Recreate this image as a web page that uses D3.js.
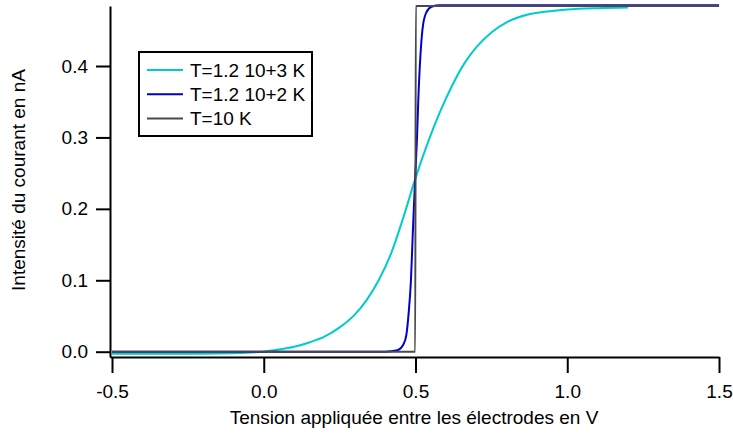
<!DOCTYPE html>
<html>
<head>
<meta charset="utf-8">
<script src="https://cdn.jsdelivr.net/npm/d3@7"></script>
<style>
  html, body { margin: 0; padding: 0; background: #fff; }
  svg { display: block; font-family: "Liberation Sans", Arial, sans-serif; }
</style>
</head>
<body>
<svg id="chart" width="733" height="439"></svg>
<script>
// Tension (V) and current (nA) samples for each temperature
const voltsHot = [-0.5, -0.3, -0.1, 0.0, 0.05, 0.10, 0.15, 0.20, 0.25, 0.30, 0.34, 0.38, 0.42, 0.46, 0.50, 0.54, 0.58, 0.62, 0.66, 0.70, 0.75, 0.80, 0.87, 0.95, 1.0, 1.1, 1.2];
const currentHot = [-0.003, -0.003, -0.002, 0.0, 0.003, 0.007, 0.013, 0.021, 0.034, 0.052, 0.073, 0.101, 0.138, 0.188, 0.243, 0.292, 0.335, 0.372, 0.403, 0.426, 0.447, 0.461, 0.472, 0.477, 0.479, 0.481, 0.482];

const voltsWarm = [-0.5, 0.40, 0.44, 0.46, 0.47, 0.477, 0.485, 0.491, 0.499, 0.505, 0.509, 0.517, 0.525, 0.537, 0.553, 0.58, 1.5];
const currentWarm = [0.0, 0.0, 0.002, 0.010, 0.024, 0.052, 0.100, 0.165, 0.245, 0.300, 0.350, 0.420, 0.458, 0.476, 0.483, 0.485, 0.485];

const voltsCold = [-0.5, 0.499, 0.501, 1.5];
const currentCold = [0.0, 0.0, 0.484, 0.484];

const seriesNames = ["T=1.2 10+3 K", "T=1.2 10+2 K", "T=10 K"];
const seriesColors = ["#00cccc", "#0000cc", "#4a4a4a"];

const xTicks = [-0.5, 0.0, 0.5, 1.0, 1.5];
const yTicks = [0.0, 0.1, 0.2, 0.3, 0.4];

const xTitle = "Tension appliquée entre les électrodes en V";
const yTitle = "Intensité du courant en nA";

const svg = d3.select("#chart");

const x = d3.scaleLinear().domain([-0.5066, 1.5]).range([110, 719]);
const y = d3.scaleLinear().domain([-0.0074, 0.484]).range([357, 6]);

const fmt = d => d.toFixed(1);

const zip = (xs, ys) => xs.map((v, i) => [v, ys[i]]);
const series = [
  zip(voltsHot, currentHot),
  zip(voltsWarm, currentWarm),
  zip(voltsCold, currentCold)
];

const line = d3.line()
  .x(d => x(d[0]))
  .y(d => y(d[1]))
  .curve(d3.curveMonotoneX);

// curves, hottest first so the sharp steps sit on top
svg.append("g")
  .selectAll("path")
  .data(series)
  .join("path")
  .attr("fill", "none")
  .attr("stroke", (d, i) => seriesColors[i])
  .attr("stroke-width", 2)
  .attr("d", line);

// axes
const xAxis = svg.append("g")
  .attr("transform", `translate(0,${357})`)
  .call(d3.axisBottom(x).tickValues(xTicks).tickFormat(fmt).tickSize(16).tickPadding(12).tickSizeOuter(0));

const yAxis = svg.append("g")
  .attr("transform", `translate(${110},0)`)
  .call(d3.axisLeft(y).tickValues(yTicks).tickFormat(fmt).tickSize(14).tickPadding(8).tickSizeOuter(0));

[xAxis, yAxis].forEach(g => {
  g.selectAll("path.domain").attr("stroke", "#000").attr("stroke-width", 2);
  g.selectAll(".tick line").attr("stroke", "#000").attr("stroke-width", 2);
  g.selectAll(".tick text").attr("fill", "#000").attr("font-size", 19)
    .attr("font-family", "Liberation Sans, Arial, sans-serif");
});

// axis titles
svg.append("text")
  .attr("x", 414)
  .attr("y", 424)
  .attr("text-anchor", "middle")
  .attr("font-size", 19)
  .attr("fill", "#000")
  .text(xTitle);

svg.append("text")
  .attr("transform", "translate(25,180) rotate(-90)")
  .attr("text-anchor", "middle")
  .attr("font-size", 19)
  .attr("fill", "#000")
  .text(yTitle);

// legend
const legend = svg.append("g");
legend.append("rect")
  .attr("x", 139).attr("y", 52)
  .attr("width", 173).attr("height", 84)
  .attr("fill", "#fff")
  .attr("stroke", "#000")
  .attr("stroke-width", 2);

const rows = legend.selectAll("g.row")
  .data(seriesNames)
  .join("g")
  .attr("class", "row")
  .attr("transform", (d, i) => `translate(0,${70 + i * 24.3})`);

rows.append("line")
  .attr("x1", 147).attr("x2", 183)
  .attr("y1", 0).attr("y2", 0)
  .attr("stroke", (d, i) => seriesColors[i])
  .attr("stroke-width", 2);

rows.append("text")
  .attr("x", 190)
  .attr("y", 0)
  .attr("dy", "0.36em")
  .attr("font-size", 19)
  .attr("fill", "#000")
  .text(d => d);
</script>
</body>
</html>
